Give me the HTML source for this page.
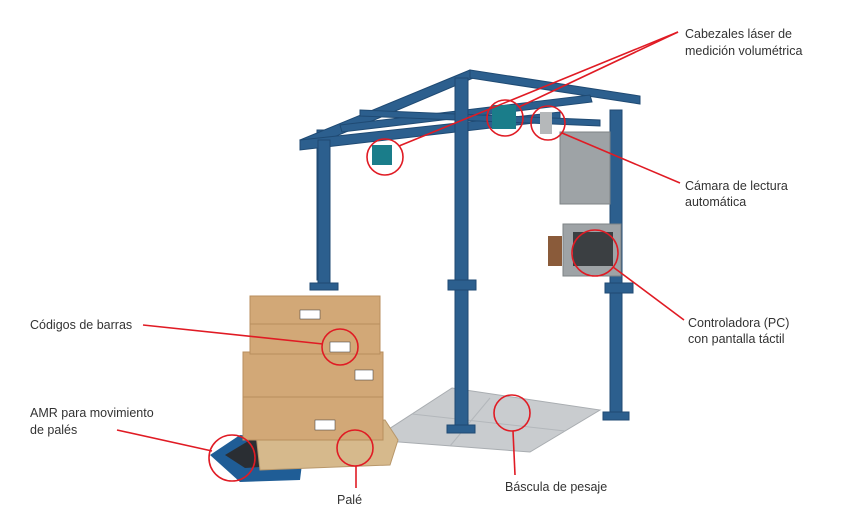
<!DOCTYPE html>
<html><head><meta charset="utf-8"><style>
html,body{margin:0;padding:0;background:#fff;width:850px;height:530px;overflow:hidden}
svg{display:block}
text{font-family:"Liberation Sans",sans-serif;font-size:12.5px;fill:#333}
</style></head><body>
<svg width="850" height="530" viewBox="0 0 850 530">
<!-- scale platform -->
<polygon points="372,440 452,388 600,410 530,452" fill="#c9cccf" stroke="#a9adb1"/>
<line x1="412" y1="414" x2="565" y2="431" stroke="#b3b7bb"/>
<line x1="490" y1="398" x2="450" y2="446" stroke="#b3b7bb"/>
<!-- frame back -->
<g fill="#2c5f8e" stroke="#1f4a73" stroke-width="1">
<rect x="317" y="130" width="9" height="150"/>
<rect x="610" y="110" width="12" height="310"/>
<rect x="603" y="412" width="26" height="8"/>
<polygon points="300,140 470,70 478,76 308,148"/>
<polygon points="470,70 640,96 640,104 470,78"/>
<polygon points="300,140 560,112 560,120 300,150"/>
<polygon points="340,125 590,95 592,102 342,132"/>
<polygon points="360,110 600,120 600,126 360,116"/>
<rect x="455" y="78" width="13" height="352"/>
<rect x="447" y="425" width="28" height="8"/>
<rect x="318" y="140" width="12" height="150"/>
<rect x="310" y="283" width="28" height="7"/>
<rect x="448" y="280" width="28" height="10"/>
<rect x="605" y="283" width="28" height="10"/>
</g>
<!-- heads -->
<rect x="372" y="145" width="20" height="20" fill="#1a7d8a"/>
<rect x="492" y="105" width="24" height="24" fill="#1a7d8a"/>
<rect x="540" y="112" width="12" height="22" fill="#b5b8ba"/>
<!-- cabinets -->
<rect x="560" y="132" width="50" height="72" fill="#9ea3a6" stroke="#7d8386"/>
<rect x="563" y="224" width="58" height="52" fill="#9ea3a6" stroke="#7d8386"/>
<rect x="573" y="232" width="40" height="34" fill="#3b3f42"/>
<rect x="548" y="236" width="14" height="30" fill="#8a5b3a"/>
<!-- AMR -->
<polygon points="210,455 240,435 305,440 300,480 240,482" fill="#1f5d96"/>
<polygon points="225,455 250,440 295,445 290,465 245,468" fill="#2a2e33"/>
<!-- pallet -->
<polygon points="255,425 385,420 398,440 390,465 260,470" fill="#d6b98c" stroke="#b8976a"/>
<!-- boxes -->
<g fill="#d2a877" stroke="#b88e5d">
<rect x="243" y="395" width="140" height="45"/>
<rect x="243" y="352" width="140" height="45"/>
<rect x="250" y="322" width="130" height="32"/>
<rect x="250" y="296" width="130" height="28"/>
</g>
<g fill="#fff" stroke="#333" stroke-width="0.5">
<rect x="330" y="342" width="20" height="10"/><rect x="315" y="420" width="20" height="10"/><rect x="300" y="310" width="20" height="9"/><rect x="355" y="370" width="18" height="10"/>
</g>
<!-- annotations -->
<g stroke="#e01b24" stroke-width="1.6" fill="none">
<circle cx="385" cy="157" r="18"/><circle cx="505" cy="118" r="18"/><circle cx="548" cy="123" r="17"/>
<circle cx="595" cy="253" r="23"/><circle cx="340" cy="347" r="18"/><circle cx="355" cy="448" r="18"/>
<circle cx="512" cy="413" r="18"/><circle cx="232" cy="458" r="23"/>
<line x1="678" y1="32" x2="399" y2="146"/><line x1="678" y1="32" x2="519" y2="107"/>
<line x1="680" y1="183" x2="562" y2="133"/>
<line x1="684" y1="320" x2="613" y2="267"/>
<line x1="143" y1="325" x2="323" y2="344"/>
<line x1="117" y1="430" x2="212" y2="451"/>
<line x1="356" y1="488" x2="356" y2="466"/>
<line x1="515" y1="475" x2="513" y2="431"/>
</g>
<text x="685" y="38">Cabezales láser de</text><text x="685" y="55">medición volumétrica</text>
<text x="685" y="190">Cámara de lectura</text><text x="685" y="206">automática</text>
<text x="688" y="327">Controladora (PC)</text><text x="688" y="343">con pantalla táctil</text>
<text x="30" y="329">Códigos de barras</text>
<text x="30" y="417">AMR para movimiento</text><text x="30" y="434">de palés</text>
<text x="337" y="504">Palé</text>
<text x="505" y="491">Báscula de pesaje</text>
</svg>
</body></html>
